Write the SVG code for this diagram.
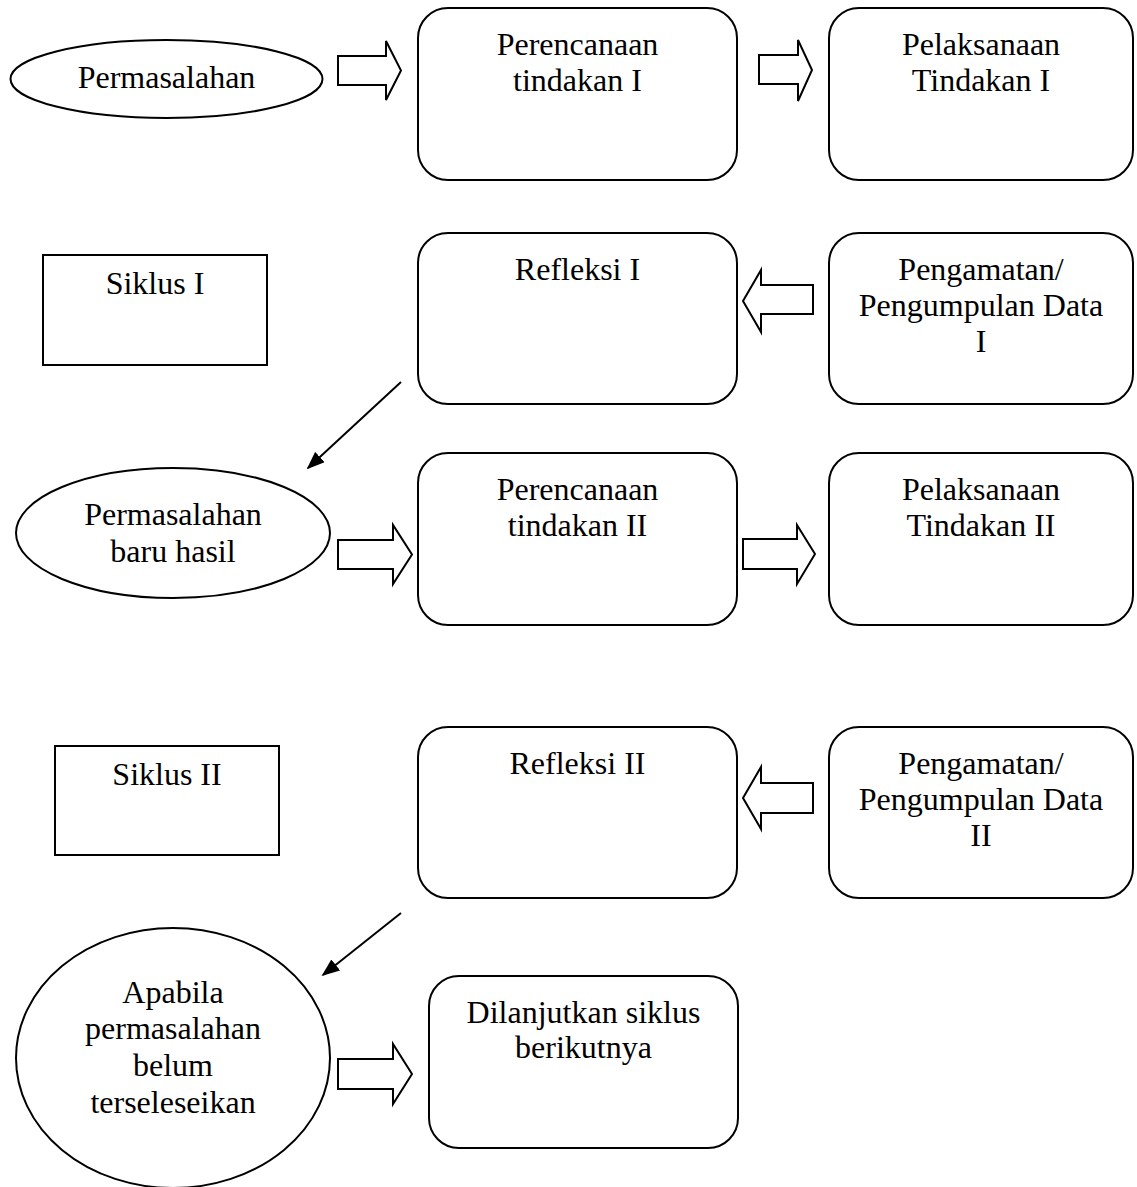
<svg xmlns="http://www.w3.org/2000/svg" width="1137" height="1187" viewBox="0 0 1137 1187">
<style>
.shape{fill:#fff;stroke:#000;stroke-width:2}
.blk{fill:#fff;stroke:#000;stroke-width:2;stroke-linejoin:miter}
.line{fill:none;stroke:#000;stroke-width:2}
.t{font-family:'Liberation Serif','Times New Roman','DejaVu Serif',serif;font-size:32px;fill:#000;text-anchor:middle}
</style>
<defs>
<marker id="ah" viewBox="0 0 10 10" refX="9" refY="5" markerWidth="18" markerHeight="14" markerUnits="userSpaceOnUse" orient="auto" preserveAspectRatio="none">
<path d="M0,0 L10,5 L0,10 Z" fill="#000"/>
</marker>
</defs>
<rect width="1137" height="1187" fill="#fff"/>

<g id="n-permasalahan">
<ellipse class="shape" cx="166.5" cy="79" rx="156" ry="39"/>
<text class="t" font-family="Liberation Serif" x="166.5" y="88">Permasalahan</text>
</g>
<g id="n-perencanaan1">
<rect class="shape" x="418" y="8" width="319" height="172" rx="30"/>
<text class="t" font-family="Liberation Serif" x="577.5" y="55">Perencanaan</text>
<text class="t" font-family="Liberation Serif" x="577.5" y="91">tindakan I</text>
</g>
<g id="n-pelaksanaan1">
<rect class="shape" x="829" y="8" width="304" height="172" rx="30"/>
<text class="t" font-family="Liberation Serif" x="981" y="55">Pelaksanaan</text>
<text class="t" font-family="Liberation Serif" x="981" y="91">Tindakan I</text>
</g>
<g id="n-siklus1">
<rect class="shape" x="43" y="255" width="224" height="110"/>
<text class="t" font-family="Liberation Serif" x="155" y="294">Siklus I</text>
</g>
<g id="n-refleksi1">
<rect class="shape" x="418" y="233" width="319" height="171" rx="30"/>
<text class="t" font-family="Liberation Serif" x="577.5" y="280">Refleksi I</text>
</g>
<g id="n-pengamatan1">
<rect class="shape" x="829" y="233" width="304" height="171" rx="30"/>
<text class="t" font-family="Liberation Serif" x="981" y="280">Pengamatan/</text>
<text class="t" font-family="Liberation Serif" x="981" y="316">Pengumpulan Data</text>
<text class="t" font-family="Liberation Serif" x="981" y="352">I</text>
</g>
<g id="n-permasalahan-baru">
<ellipse class="shape" cx="173" cy="533" rx="157" ry="65"/>
<text class="t" font-family="Liberation Serif" x="173" y="525">Permasalahan</text>
<text class="t" font-family="Liberation Serif" x="173" y="562">baru hasil</text>
</g>
<g id="n-perencanaan2">
<rect class="shape" x="418" y="453" width="319" height="172" rx="30"/>
<text class="t" font-family="Liberation Serif" x="577.5" y="500">Perencanaan</text>
<text class="t" font-family="Liberation Serif" x="577.5" y="536">tindakan II</text>
</g>
<g id="n-pelaksanaan2">
<rect class="shape" x="829" y="453" width="304" height="172" rx="30"/>
<text class="t" font-family="Liberation Serif" x="981" y="500">Pelaksanaan</text>
<text class="t" font-family="Liberation Serif" x="981" y="536">Tindakan II</text>
</g>
<g id="n-siklus2">
<rect class="shape" x="55" y="746" width="224" height="109"/>
<text class="t" font-family="Liberation Serif" x="167" y="785">Siklus II</text>
</g>
<g id="n-refleksi2">
<rect class="shape" x="418" y="727" width="319" height="171" rx="30"/>
<text class="t" font-family="Liberation Serif" x="577.5" y="774">Refleksi II</text>
</g>
<g id="n-pengamatan2">
<rect class="shape" x="829" y="727" width="304" height="171" rx="30"/>
<text class="t" font-family="Liberation Serif" x="981" y="774">Pengamatan/</text>
<text class="t" font-family="Liberation Serif" x="981" y="810">Pengumpulan Data</text>
<text class="t" font-family="Liberation Serif" x="981" y="846">II</text>
</g>
<g id="n-apabila">
<ellipse class="shape" cx="173" cy="1058" rx="157" ry="130"/>
<text class="t" font-family="Liberation Serif" x="173" y="1003">Apabila</text>
<text class="t" font-family="Liberation Serif" x="173" y="1039">permasalahan</text>
<text class="t" font-family="Liberation Serif" x="173" y="1076">belum</text>
<text class="t" font-family="Liberation Serif" x="173" y="1113">terseleseikan</text>
</g>
<g id="n-dilanjutkan">
<rect class="shape" x="429" y="976" width="309" height="172" rx="30"/>
<text class="t" font-family="Liberation Serif" x="583.5" y="1023">Dilanjutkan siklus</text>
<text class="t" font-family="Liberation Serif" x="583.5" y="1058">berikutnya</text>
</g>

<g id="connectors">
<path class="blk" d="M338,56 H386 V41 L401,70.5 L386,100 V85 H338 Z"/>
<path class="blk" d="M759,55 H798 V40 L812,70 L798,101 V84 H759 Z"/>
<path class="blk" d="M813,285 H761 V270 L743,301 L761,332 V314 H813 Z"/>
<path class="blk" d="M338,540 H393 V525 L412,554.5 L393,584 V569 H338 Z"/>
<path class="blk" d="M743,539 H797 V525 L815,554 L797,584 V569 H743 Z"/>
<path class="blk" d="M813,783 H761 V767 L743,798 L761,829 V813 H813 Z"/>
<path class="blk" d="M338,1059 H393 V1044 L412,1074 L393,1104 V1089 H338 Z"/>
<line class="line" x1="401" y1="382" x2="308" y2="468" marker-end="url(#ah)"/>
<line class="line" x1="401" y1="913" x2="323" y2="975" marker-end="url(#ah)"/>
</g>
</svg>
